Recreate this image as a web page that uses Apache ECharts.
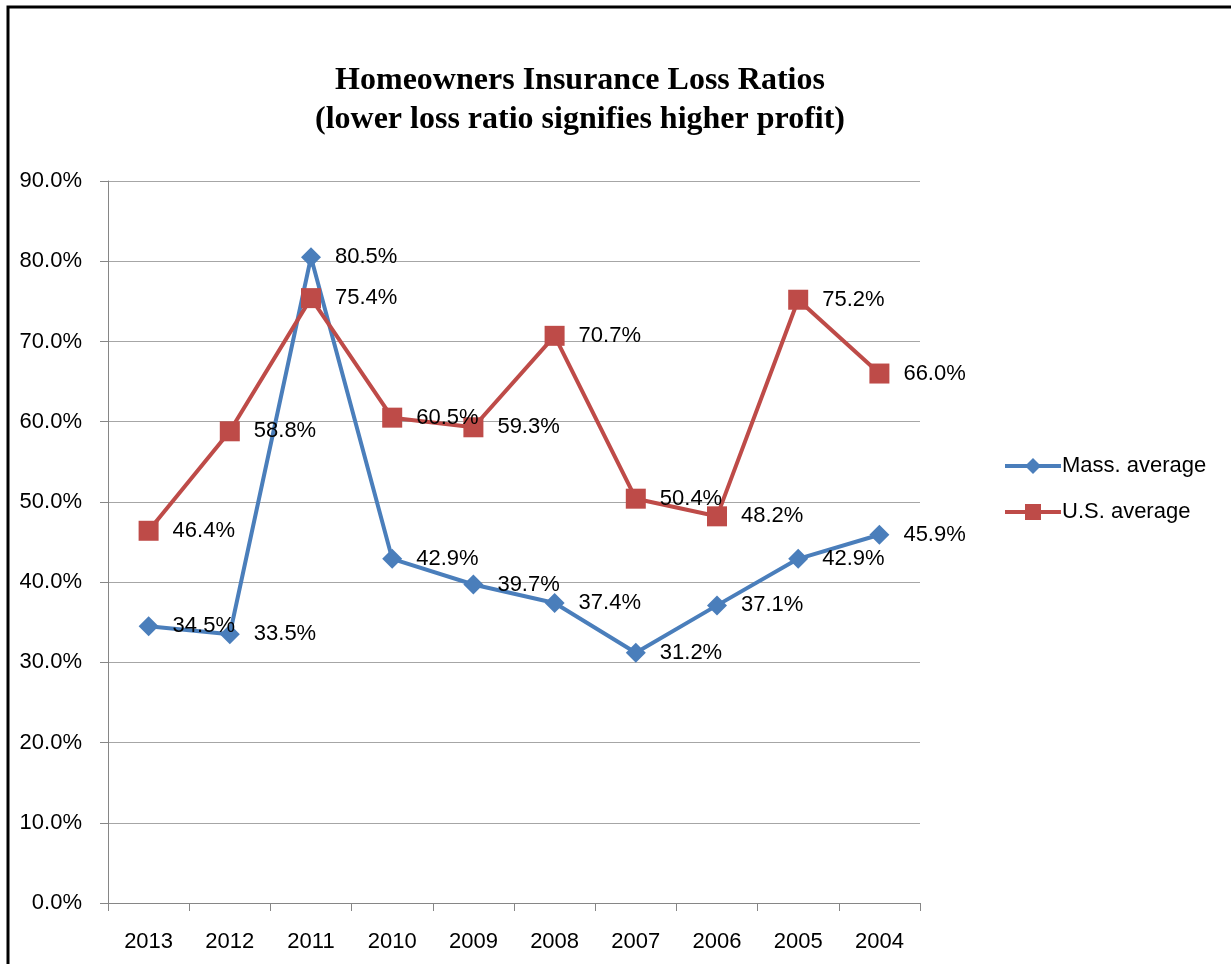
<!DOCTYPE html>
<html>
<head>
<meta charset="utf-8">
<script src="https://cdn.jsdelivr.net/npm/echarts@6/dist/echarts.min.js"></script>
<style>
  html, body { margin: 0; padding: 0; background: #fff; }
  #mainchart { width: 1231px; height: 964px; }
</style>
</head>
<body>
<div id="mainchart"></div>
<script>
var years = ['2013', '2012', '2011', '2010', '2009', '2008', '2007', '2006', '2005', '2004'];
var massAverage = [34.5, 33.5, 80.5, 42.9, 39.7, 37.4, 31.2, 37.1, 42.9, 45.9];
var usAverage = [46.4, 58.8, 75.4, 60.5, 59.3, 70.7, 50.4, 48.2, 75.2, 66.0];

var myChart = echarts.init(document.getElementById('mainchart'));
var labelFont = 'Liberation Sans';

// 数据标签
function pctLabel(p) {
    return p.value.toFixed(1) + '%';
}

var option = {
    backgroundColor: '#fff',
    animation: false,
    title: {
        text: 'Homeowners Insurance Loss Ratios\n(lower loss ratio signifies higher profit)',
        left: 575,
        top: 56,
        textAlign: 'center',
        textStyle: {
            fontFamily: 'Liberation Serif',
            fontWeight: 'bold',
            fontSize: 32,
            lineHeight: 39,
            color: '#000'
        }
    },
    graphic: [{
        type: 'rect',
        shape: { x: 8, y: 7, width: 1400, height: 1100 },
        style: { fill: 'none', stroke: '#000', lineWidth: 3 },
        silent: true
    }],
    legend: {
        orient: 'vertical',
        left: 998,
        top: 450,
        itemWidth: 56,
        itemHeight: 20,
        itemGap: 24,
        lineStyle: { width: 4 },
        textStyle: { fontFamily: labelFont, fontSize: 22, color: '#000', padding: [0, 0, 0, -4] },
        data: ['Mass. average', 'U.S. average']
    },
    grid: {
        left: 108,
        right: 311,
        top: 181,
        bottom: 61
    },
    xAxis: {
        type: 'category',
        data: years,
        boundaryGap: true,
        axisLine: { lineStyle: { color: '#868686', width: 1 } },
        axisTick: { show: true, length: 8, lineStyle: { color: '#868686' } },
        axisLabel: { fontFamily: labelFont, fontSize: 22, color: '#000', margin: 28 }
    },
    yAxis: {
        type: 'value',
        min: 0,
        max: 90,
        interval: 10,
        axisLine: { show: true, lineStyle: { color: '#868686', width: 1 } },
        axisTick: { show: true, length: 8, lineStyle: { color: '#868686' } },
        splitLine: { lineStyle: { color: '#a6a6a6', width: 1 } },
        axisLabel: {
            fontFamily: labelFont, fontSize: 22, color: '#000', margin: 26,
            formatter: function(v) { return v.toFixed(1) + '%'; }
        }
    },
    series: [{
        name: 'Mass. average',
        type: 'line',
        data: massAverage,
        symbol: 'diamond',
        symbolSize: 20,
        color: '#4a7ebb',
        lineStyle: { width: 4, color: '#4a7ebb' },
        itemStyle: { color: '#4a7ebb' },
        label: {
            show: true, position: 'right', distance: 14,
            fontFamily: labelFont, fontSize: 22, color: '#000',
            formatter: pctLabel
        }
    }, {
        name: 'U.S. average',
        type: 'line',
        data: usAverage,
        symbol: 'rect',
        symbolSize: 20,
        color: '#be4b48',
        lineStyle: { width: 4, color: '#be4b48' },
        itemStyle: { color: '#be4b48' },
        label: {
            show: true, position: 'right', distance: 14,
            fontFamily: labelFont, fontSize: 22, color: '#000',
            formatter: pctLabel
        }
    }]
};
myChart.setOption(option);
</script>
</body>
</html>
